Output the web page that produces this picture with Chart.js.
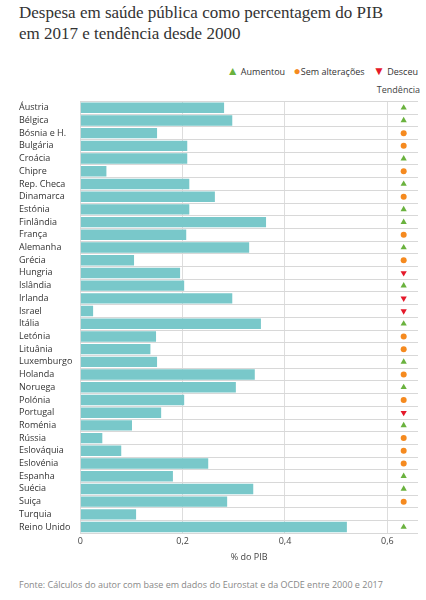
<!DOCTYPE html><html><head><meta charset="utf-8">
<script src="https://cdn.jsdelivr.net/npm/chart.js@4/dist/chart.umd.min.js"></script>
<style>
body{margin:0;background:#fff;width:426px;height:600px;position:relative;font-family:"Open Sans",sans-serif;overflow:hidden}
#t{position:absolute;left:19px;top:2px;font-family:"Liberation Serif",serif;font-size:17px;line-height:21px;color:#333;white-space:nowrap}
#lg{position:absolute;right:8px;top:62px;font-size:9px;color:#333}
#lg b{font-size:12px;font-weight:normal;margin-left:6px}
#td{position:absolute;right:6px;top:83px;font-size:9px;color:#444}
#f{position:absolute;left:19px;top:578px;font-size:9px;color:#888}
#c{position:absolute;left:0;top:92px}
</style></head><body>
<div id="t">Despesa em saúde pública como percentagem do PIB<br>em 2017 e tendência desde 2000</div>
<div id="lg"><b style="color:#6ab23e">▲</b> Aumentou <b style="color:#f58a1f">●</b>Sem alterações <b style="color:#e5192a">▼</b> Desceu</div>
<div id="td">Tendência</div>
<div id="f">Fonte: Cálculos do autor com base em dados do Eurostat e da OCDE entre 2000 e 2017</div>
<canvas id="c" width="426" height="475"></canvas>
<script>
const countries=["Áustria","Bélgica","Bósnia e H.","Bulgária","Croácia","Chipre","Rep. Checa","Dinamarca","Estónia","Finlândia","França","Alemanha","Grécia","Hungria","Islândia","Irlanda","Israel","Itália","Letónia","Lituânia","Luxemburgo","Holanda","Noruega","Polónia","Portugal","Roménia","Rússia","Eslováquia","Eslovénia","Espanha","Suécia","Suiça","Turquia","Reino Unido"];
const values=[0.281,0.297,0.150,0.209,0.209,0.051,0.213,0.263,0.213,0.363,0.207,0.330,0.105,0.195,0.203,0.297,0.025,0.353,0.148,0.137,0.150,0.341,0.304,0.203,0.158,0.101,0.043,0.080,0.250,0.181,0.338,0.287,0.109,0.521];
const trends=["up","up","same","same","up","same","up","same","up","up","same","up","same","down","up","down","down","up","same","same","up","same","up","same","down","up","same","same","same","up","up","same",null,"up"];
const xTicks=[0,0.2,0.4,0.6];
const tIdx=trends.map((t,i)=>t?i:-1).filter(i=>i>=0);
const col={up:"#6ab23e",same:"#f58a1f",down:"#e5192a"};
new Chart(document.getElementById('c'),{
 type:'bar',
 data:{labels:countries,datasets:[
  {data:values,backgroundColor:'#79c8ca',barPercentage:1,categoryPercentage:0.82,order:2},
  {type:'scatter',data:tIdx.map(i=>({x:0.632,y:countries[i]})),
   pointStyle:tIdx.map(i=>trends[i]==='same'?'circle':'triangle'),
   rotation:tIdx.map(i=>trends[i]==='down'?180:0),
   backgroundColor:tIdx.map(i=>col[trends[i]]),borderWidth:0,
   pointRadius:tIdx.map(i=>trends[i]==='same'?3:3.6),order:1}
 ]},
 options:{indexAxis:'y',responsive:false,animation:false,
  layout:{padding:{left:19,right:8,top:4,bottom:0}},
  plugins:{legend:{display:false},tooltip:{enabled:false}},
  scales:{
   x:{min:0,max:0.66,afterBuildTicks:a=>{a.ticks=xTicks.map(v=>({value:v}))},
      ticks:{font:{size:9,family:'Open Sans'},color:'#444',callback:v=>String(v).replace('.',',')},
      grid:{color:'#ddd',drawTicks:false},border:{display:false},
      title:{display:true,text:'% do PIB',font:{size:9,family:'Open Sans'},color:'#444',padding:{top:2}}},
   y:{ticks:{crossAlign:'far',font:{size:9,family:'Open Sans'},color:'#333',autoSkip:false,padding:4},
      grid:{color:'#d8d8d8',borderDash:[1.5,2.5],drawTicks:false},border:{display:false}}
  }}
});
</script></body></html>
